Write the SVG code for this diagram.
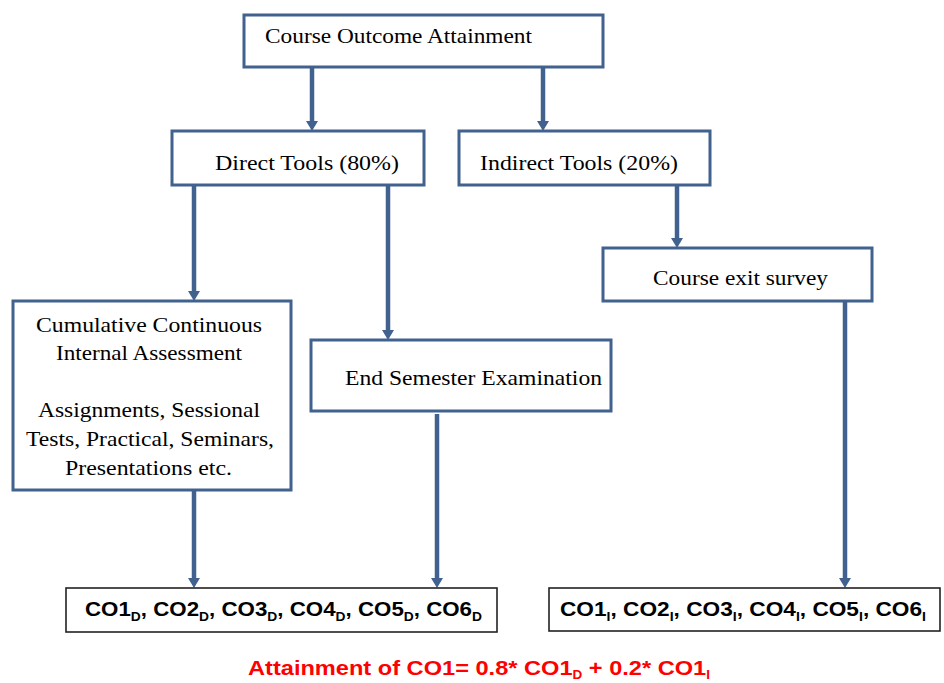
<svg xmlns="http://www.w3.org/2000/svg" width="944" height="683" viewBox="0 0 944 683">
<style>
  .box { fill: #ffffff; stroke: #41618e; stroke-width: 3; }
  .obox { fill: #ffffff; stroke: #222222; stroke-width: 1.6; }
  .t { font-family: "Liberation Serif", "Times New Roman", serif; font-size: 21px; fill: #000000; }
  .b { font-family: "Liberation Sans", Arial, sans-serif; font-weight: bold; font-size: 21px; fill: #000000; }
  .f { font-family: "Liberation Sans", Arial, sans-serif; font-weight: bold; font-size: 21px; fill: #ff0000; }
  .c { stroke: #41618e; stroke-width: 4.5; fill: none; marker-end: url(#ah); }
</style>
<defs>
  <marker id="ah" viewBox="0 0 10 12" refX="3" refY="6" markerWidth="10" markerHeight="12" markerUnits="userSpaceOnUse" orient="auto">
    <path d="M0,0 L10,6 L0,12 z" fill="#41618e"/>
  </marker>
</defs>
<rect width="944" height="683" fill="#ffffff"/>

<g id="connectors">
  <line class="c" x1="312" y1="67" x2="312" y2="124"/>
  <line class="c" x1="543" y1="67" x2="543" y2="124"/>
  <line class="c" x1="194" y1="185" x2="194" y2="294"/>
  <line class="c" x1="388" y1="185" x2="388" y2="333"/>
  <line class="c" x1="677" y1="185" x2="677" y2="241"/>
  <line class="c" x1="194" y1="491" x2="194" y2="581"/>
  <line class="c" x1="437" y1="414" x2="437" y2="581"/>
  <line class="c" x1="845" y1="302" x2="845" y2="581"/>
</g>

<g id="course-outcome">
  <rect class="box" x="244" y="15" width="359" height="52"/>
  <text class="t" x="265" y="43" textLength="267" lengthAdjust="spacingAndGlyphs">Course Outcome Attainment</text>
</g>

<g id="direct-tools">
  <rect class="box" x="172" y="131" width="252" height="54"/>
  <text class="t" x="215" y="170" textLength="184" lengthAdjust="spacingAndGlyphs">Direct Tools (80%)</text>
</g>

<g id="indirect-tools">
  <rect class="box" x="459" y="131" width="251" height="54"/>
  <text class="t" x="480" y="170" textLength="198" lengthAdjust="spacingAndGlyphs">Indirect Tools (20%)</text>
</g>

<g id="course-exit-survey">
  <rect class="box" x="603" y="248" width="269" height="53"/>
  <text class="t" x="653" y="285" textLength="175" lengthAdjust="spacingAndGlyphs">Course exit survey</text>
</g>

<g id="ccia">
  <rect class="box" x="13" y="301" width="278" height="189"/>
  <text class="t" x="36" y="332" textLength="226" lengthAdjust="spacingAndGlyphs">Cumulative Continuous</text>
  <text class="t" x="56" y="360" textLength="186" lengthAdjust="spacingAndGlyphs">Internal Assessment</text>
  <text class="t" x="38" y="417" textLength="222" lengthAdjust="spacingAndGlyphs">Assignments, Sessional</text>
  <text class="t" x="26" y="446" textLength="248" lengthAdjust="spacingAndGlyphs">Tests, Practical, Seminars,</text>
  <text class="t" x="65" y="475" textLength="167" lengthAdjust="spacingAndGlyphs">Presentations etc.</text>
</g>

<g id="end-semester">
  <rect class="box" x="311" y="340" width="300" height="71"/>
  <text class="t" x="345" y="385" textLength="257" lengthAdjust="spacingAndGlyphs">End Semester Examination</text>
</g>

<g id="direct-cos">
  <rect class="obox" x="66" y="588" width="431" height="44"/>
  <text class="b" x="85" y="616" textLength="397" lengthAdjust="spacingAndGlyphs">CO1<tspan font-size="13" dy="5">D</tspan><tspan dy="-5">, CO2</tspan><tspan font-size="13" dy="5">D</tspan><tspan dy="-5">, CO3</tspan><tspan font-size="13" dy="5">D</tspan><tspan dy="-5">, CO4</tspan><tspan font-size="13" dy="5">D</tspan><tspan dy="-5">, CO5</tspan><tspan font-size="13" dy="5">D</tspan><tspan dy="-5">, CO6</tspan><tspan font-size="13" dy="5">D</tspan></text>
</g>

<g id="indirect-cos">
  <rect class="obox" x="549" y="588" width="391" height="43"/>
  <text class="b" x="560" y="616" textLength="366" lengthAdjust="spacingAndGlyphs">CO1<tspan font-size="13" dy="5">I</tspan><tspan dy="-5">, CO2</tspan><tspan font-size="13" dy="5">I</tspan><tspan dy="-5">, CO3</tspan><tspan font-size="13" dy="5">I</tspan><tspan dy="-5">, CO4</tspan><tspan font-size="13" dy="5">I</tspan><tspan dy="-5">, CO5</tspan><tspan font-size="13" dy="5">I</tspan><tspan dy="-5">, CO6</tspan><tspan font-size="13" dy="5">I</tspan></text>
</g>

<g id="formula">
  <text class="f" x="248" y="675" textLength="462" lengthAdjust="spacingAndGlyphs">Attainment of CO1= 0.8* CO1<tspan font-size="12" dy="4">D</tspan><tspan dy="-4"> + 0.2* CO1</tspan><tspan font-size="12" dy="4">I</tspan></text>
</g>
</svg>
